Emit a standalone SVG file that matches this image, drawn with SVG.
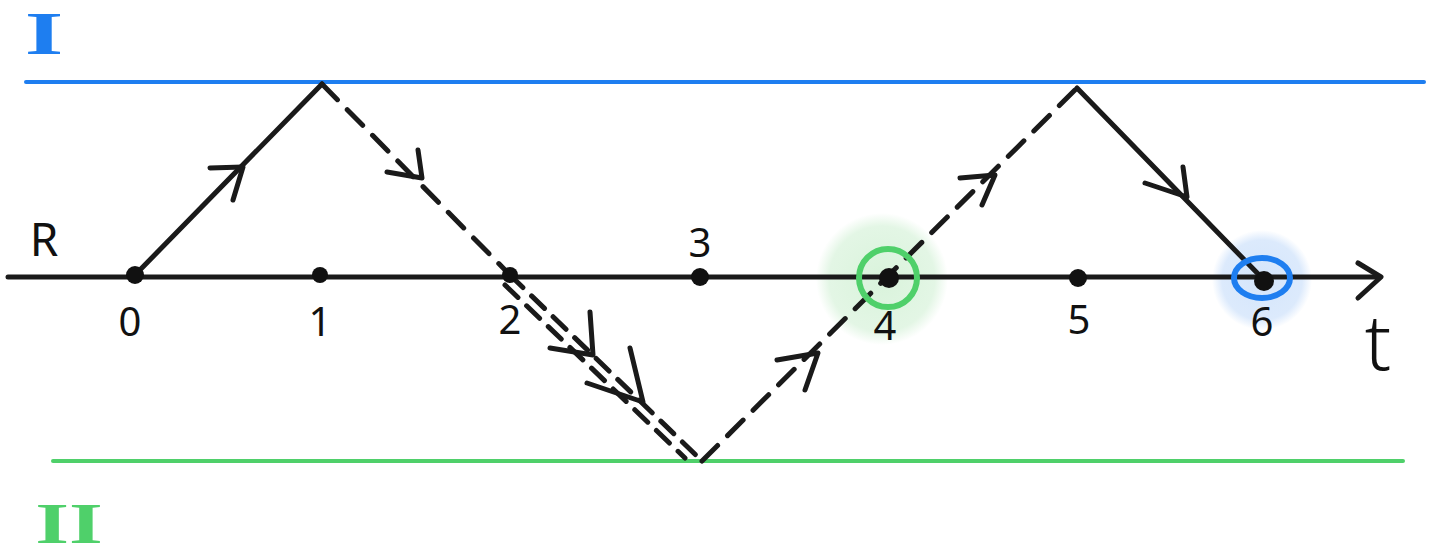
<svg xmlns="http://www.w3.org/2000/svg" width="1434" height="557" viewBox="0 0 1434 557">
<defs>
<style>
.ink{stroke:#1a1a1a;stroke-width:5;stroke-linecap:round;stroke-linejoin:round;fill:none}
.dash{stroke-dasharray:22 14}
.dash2{stroke-dasharray:18 12}
.num{font-family:"Noto Sans","Liberation Sans",sans-serif;font-weight:400;font-size:40px;fill:#111;text-anchor:middle}
.dot{fill:#111}
</style>
<radialGradient id="gGlow">
<stop offset="0" stop-color="#d9f3db" stop-opacity="1"/>
<stop offset="0.8" stop-color="#e3f6e5" stop-opacity="1"/>
<stop offset="1" stop-color="#e3f6e5" stop-opacity="0"/>
</radialGradient>
<radialGradient id="bGlow">
<stop offset="0" stop-color="#d4e5fb" stop-opacity="1"/>
<stop offset="0.8" stop-color="#dceafc" stop-opacity="1"/>
<stop offset="1" stop-color="#dceafc" stop-opacity="0"/>
</radialGradient>
</defs>
<rect width="1434" height="557" fill="#fff"/>

<!-- region boundaries -->
<g id="boundary-I">
<line x1="26" y1="82" x2="1424" y2="82" stroke="#1e7ef0" stroke-width="4" stroke-linecap="round"/>
<text x="44" y="54" font-family="Liberation Serif, serif" font-weight="bold" font-size="62" fill="#1e7ef0" text-anchor="middle" transform="translate(44 0) scale(1.6 1) translate(-44 0)">I</text>
</g>
<g id="boundary-II">
<line x1="53" y1="461" x2="1403" y2="461" stroke="#4fd06a" stroke-width="4" stroke-linecap="round"/>
<text x="69" y="543" font-family="Liberation Serif, serif" font-weight="bold" font-size="56" fill="#4fd06a" text-anchor="middle" transform="translate(69 0) scale(1.55 1) translate(-69 0)">II</text>
</g>

<!-- highlights -->
<g id="highlight-4">
<circle cx="882" cy="279" r="66" fill="url(#gGlow)"/>
</g>
<g id="highlight-6">
<circle cx="1262" cy="280" r="50" fill="url(#bGlow)"/>
</g>

<!-- axis -->
<g id="axis">
<line class="ink" x1="8" y1="277" x2="1380" y2="277" stroke-width="4"/>
<polyline class="ink" points="1358,263 1381,277 1358,298" stroke-width="4"/>
<text x="44" y="256" font-family="Noto Sans, Liberation Sans, sans-serif" font-weight="400" font-size="46" fill="#111" text-anchor="middle">R</text>
<text x="1378" y="370" font-family="Noto Sans, Liberation Sans, sans-serif" font-weight="300" font-size="78" fill="#111" text-anchor="middle">t</text>
</g>

<!-- connectors -->
<g id="connectors">
<line class="ink" x1="135" y1="275" x2="322" y2="84"/>
<polyline class="ink" points="210,168 243,167 233,200"/>
<line class="ink dash" x1="322" y1="84" x2="510" y2="275"/>
<polyline class="ink" points="387,172 422,178 418,150"/>
<line class="ink dash2" x1="510" y1="275" x2="702" y2="461"/>
<line class="ink dash2" x1="505" y1="285" x2="685" y2="458"/>
<polyline class="ink" points="550,348 593,355 590,312"/>
<polyline class="ink" points="587,383 643,402 630,348"/>
<line class="ink dash" x1="702" y1="461" x2="1077" y2="88"/>
<polyline class="ink" points="777,360 818,353 805,390"/>
<polyline class="ink" points="960,178 995,175 982,205"/>
<line class="ink" x1="1077" y1="88" x2="1265" y2="281"/>
<polyline class="ink" points="1145,183 1187,197 1183,167"/>
</g>

<!-- nodes -->
<g id="node-0"><circle class="dot" cx="135" cy="275" r="9"/><text class="num" x="130" y="336">0</text></g>
<g id="node-1"><circle class="dot" cx="320" cy="275" r="8"/><text class="num" x="320" y="336">1</text></g>
<g id="node-2"><circle class="dot" cx="510" cy="275" r="8"/><text class="num" x="510" y="334">2</text></g>
<g id="node-3"><circle class="dot" cx="700" cy="277" r="9"/><text class="num" x="700" y="257">3</text></g>
<g id="node-4"><circle class="dot" cx="889" cy="278" r="10"/><text class="num" x="885" y="340">4</text>
<circle cx="888" cy="278" r="29" fill="none" stroke="#4fd06a" stroke-width="6"/></g>
<g id="node-5"><circle class="dot" cx="1078" cy="278" r="9"/><text class="num" x="1079" y="334">5</text></g>
<g id="node-6"><circle class="dot" cx="1264" cy="281" r="10"/><text class="num" x="1262" y="336">6</text>
<ellipse cx="1262" cy="278" rx="28" ry="20" fill="none" stroke="#1e7ef0" stroke-width="6"/></g>
</svg>
